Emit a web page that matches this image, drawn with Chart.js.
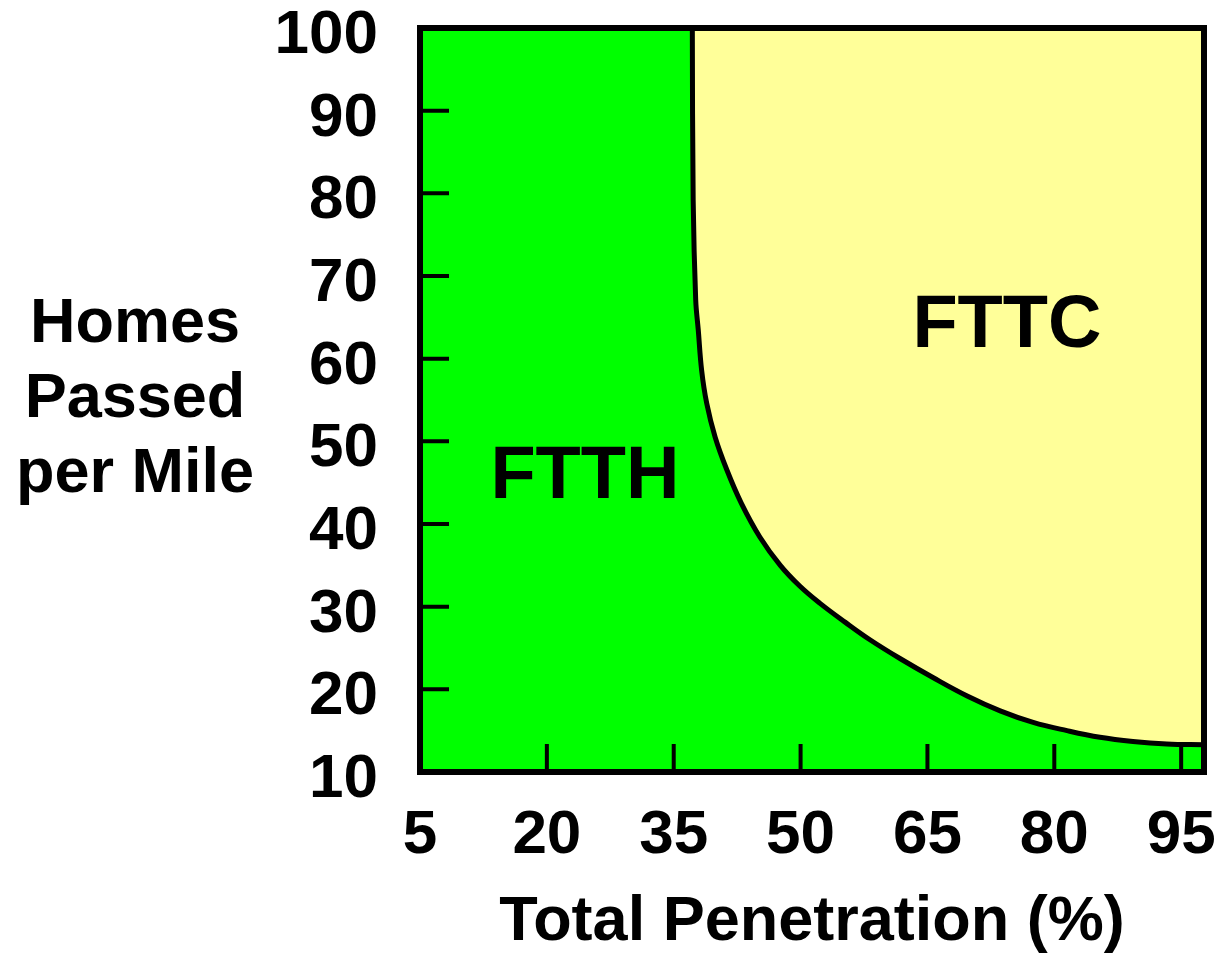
<!DOCTYPE html>
<html><head><meta charset="utf-8">
<script src="https://cdn.jsdelivr.net/npm/chart.js@4.4.1/dist/chart.umd.min.js"></script>
<style>html,body{margin:0;padding:0;background:#fff;} #wrap{width:1217px;height:957px;position:relative;}</style>
</head><body><div id="wrap"><canvas id="c"></canvas></div>
<script>
// ---- data ----
const xTickValues = [5, 20, 35, 50, 65, 80, 95];
const yTickValues = [10, 20, 30, 40, 50, 60, 70, 80, 90, 100];
const xRange = [5, 97.7];
const yRange = [10, 100];
// boundary between FTTH (below/left) and FTTC (above/right)
const boundaryX = [37.2, 37.3, 37.6, 37.9, 38.3, 38.9, 39.9, 41.3, 43.0, 45.2, 47.6, 49.9, 52.3, 55.3, 58.2, 61.8, 65.7, 69.7, 73.6, 77.5, 81.5, 85.4, 89.3, 93.3, 97.7];
const boundaryY = [100, 79.2, 67.1, 63.5, 58.6, 54.6, 50.5, 46.5, 42.5, 38.4, 35.0, 32.5, 30.4, 28.1, 26.0, 23.7, 21.4, 19.2, 17.4, 16.0, 15.0, 14.2, 13.7, 13.4, 13.3];
const regionNames = ['FTTH', 'FTTC'];
const regionX = [24.5, 74.4];
const regionY = [45.6, 63.9];
const xTitle = 'Total Penetration (%)';
const yTitleLines = ['Homes', 'Passed', 'per Mile'];

const FONT = '"Liberation Sans", Arial, Helvetica, sans-serif';
const GREEN = '#00FF00';
const YELLOW = '#FFFF99';

const decor = {
  id: 'decor',
  beforeDatasetsDraw(chart) {
    const {ctx, chartArea: a} = chart;
    ctx.save();
    ctx.fillStyle = GREEN;
    ctx.fillRect(a.left, a.top, a.right - a.left, a.bottom - a.top);
    ctx.restore();
  },
  afterDatasetsDraw(chart) {
    const {ctx, chartArea: a, scales: {x, y}} = chart;
    ctx.save();
    // inner tick marks
    ctx.strokeStyle = '#000';
    ctx.lineWidth = 4;
    ctx.beginPath();
    xTickValues.forEach((v, i) => {
      if (i === 0) return;
      const px = x.getPixelForValue(v);
      ctx.moveTo(px, a.bottom);
      ctx.lineTo(px, a.bottom - 28);
    });
    yTickValues.forEach((v, i) => {
      if (i === 0 || i === yTickValues.length - 1) return;
      const py = y.getPixelForValue(v);
      ctx.moveTo(a.left, py);
      ctx.lineTo(a.left + 29, py);
    });
    ctx.stroke();
    // frame
    ctx.lineWidth = 6;
    ctx.strokeRect(a.left, a.top, a.right - a.left, a.bottom - a.top);
    // region labels
    ctx.fillStyle = '#000';
    ctx.font = 'bold 74px ' + FONT;
    ctx.textAlign = 'center';
    ctx.textBaseline = 'middle';
    regionNames.forEach((n, i) => {
      ctx.fillText(n, x.getPixelForValue(regionX[i]), y.getPixelForValue(regionY[i]));
    });
    ctx.restore();
  },
  afterDraw(chart) {
    const {ctx} = chart;
    ctx.save();
    ctx.fillStyle = '#000';
    ctx.font = 'bold 63px ' + FONT;
    ctx.textAlign = 'center';
    ctx.textBaseline = 'alphabetic';
    yTitleLines.forEach((t, i) => ctx.fillText(t, 135, 342 + i * 75));
    ctx.restore();
  }
};

new Chart(document.getElementById('c'), {
  type: 'scatter',
  data: {
    datasets: [{
      label: 'boundary',
      data: boundaryX.map((v, i) => ({x: v, y: boundaryY[i]})),
      showLine: true,
      borderColor: '#000',
      borderWidth: 5,
      backgroundColor: YELLOW,
      fill: 'end',
      pointRadius: 0,
      tension: 0.4
    }]
  },
  options: {
    responsive: true,
    maintainAspectRatio: false,
    animation: false,
    layout: {padding: {top: 28, right: 13, bottom: 0, left: 0}},
    plugins: {legend: {display: false}, tooltip: {enabled: false}},
    scales: {
      x: {
        type: 'linear',
        min: xRange[0], max: xRange[1],
        grid: {display: false, drawTicks: false},
        border: {display: false},
        afterBuildTicks: s => { s.ticks = xTickValues.map(v => ({value: v})); },
        afterFit: s => { s.height = 185; s.paddingLeft = 0; s.paddingRight = 0; },
        ticks: {
          color: '#000', padding: 27, maxRotation: 0, autoSkip: false,
          font: {family: FONT, size: 62, weight: 'bold', lineHeight: 1.2}
        },
        title: {
          display: true, text: xTitle, color: '#000',
          padding: {top: 0, bottom: 0},
          font: {family: FONT, size: 63, weight: 'bold', lineHeight: 1.1}
        }
      },
      y: {
        type: 'linear',
        min: yRange[0], max: yRange[1],
        grid: {display: false, drawTicks: false},
        border: {display: false},
        afterBuildTicks: s => { s.ticks = yTickValues.map(v => ({value: v})); },
        afterFit: s => { s.width = 420; s.paddingTop = 0; s.paddingBottom = 0; },
        ticks: {
          color: '#000', padding: 42, labelOffset: 8, autoSkip: false,
          font: {family: FONT, size: 62, weight: 'bold', lineHeight: 1.2}
        }
      }
    }
  },
  plugins: [decor]
});
</script>
</body></html>
